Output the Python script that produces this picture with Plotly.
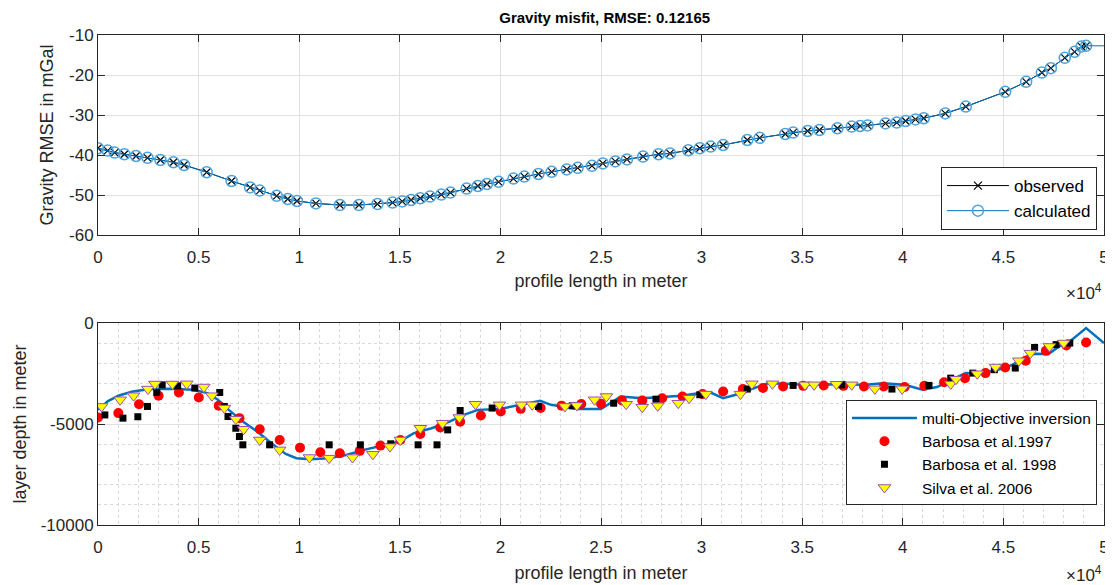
import plotly.graph_objects as go

# ---------- top panel data ----------
grav_x = [0, 480, 830, 1310, 1890, 2460, 3100, 3750, 4280, 5400, 6640, 7560, 8040, 8880, 9430, 9890,
          10830, 12020, 12970, 13890, 14640, 15120, 15560, 16020, 16500, 17060, 17520, 18320, 18880,
          19330, 19910, 20650, 21190, 21890, 22550, 23300, 23840, 24550, 25090, 25710, 26290, 27090,
          27860, 28430, 29340, 29910, 30450, 31070, 32270, 32890, 34160, 34550, 35270, 35860, 36750,
          37460, 37880, 38250, 39140, 39700, 40140, 40630, 41040, 42110, 43130, 45090, 46130, 46910,
          47360, 48050, 48540, 48880, 49110]
grav_obs = [-38.3, -38.9, -39.4, -39.8, -40.25, -40.7, -41.25, -41.8, -42.5, -44.3, -46.5, -48.1, -48.9,
            -50.2, -51.0, -51.5, -52.1, -52.5, -52.5, -52.25, -51.9, -51.6, -51.25, -50.8, -50.4, -49.9,
            -49.4, -48.4, -47.75, -47.25, -46.7, -45.9, -45.4, -44.75, -44.2, -43.6, -43.2, -42.7, -42.1,
            -41.6, -41.1, -40.4, -39.8, -39.6, -38.8, -38.3, -37.9, -37.5, -36.25, -35.7, -34.75, -34.4,
            -34.0, -33.75, -33.3, -32.9, -32.75, -32.6, -32.1, -31.9, -31.5, -31.1, -30.8, -29.6, -27.9,
            -24.2, -21.7, -19.4, -18.3, -15.7, -14.2, -12.9, -12.7]
grav_calc = list(grav_obs)
grav_tail_x = [49110, 50000]
grav_tail_y = [-12.7, -12.7]

# ---------- bottom panel data ----------
inv_x = [0, 480, 1010, 1720, 2600, 3660, 4730, 5430, 5960, 6500, 7200, 7910, 8620, 9330, 9860, 10570,
         11450, 12340, 13220, 14100, 14990, 15700, 16580, 17470, 18180, 18880, 19950, 21010, 21980,
         22510, 22950, 23840, 25000, 25980, 27050, 28130, 29020, 29910, 30450, 31070, 31700, 32410,
         33300, 34200, 35090, 35980, 37050, 38130, 39020, 40090, 40980, 41700, 42410, 43130, 43840,
         44730, 45450, 46160, 46520, 47230, 47770, 48300, 49110, 50000]
inv_y = [-4300, -3880, -3600, -3390, -3270, -3260, -3300, -3470, -3800, -4300, -4880, -5370, -5950,
         -6480, -6690, -6740, -6690, -6530, -6280, -6080, -5870, -5450, -5210, -4880, -4550, -4300,
         -4260, -4050, -3850, -4050, -4130, -4260, -4260, -3640, -3720, -3670, -3600, -3470, -3440,
         -3720, -3550, -3300, -2980, -3010, -3060, -3030, -3060, -3060, -2980, -3060, -3300, -3170,
         -2810, -2480, -2510, -2310, -2070, -1650, -1520, -1540, -1160, -910, -250, -990]

b97_x = [0, 1010, 2040, 3010, 4020, 5010, 6000, 7030, 8040, 9030, 10040, 11050, 12020, 13010, 14040,
         15030, 16020, 17010, 18000, 19030, 20020, 21010, 22000, 23040, 24020, 25000, 26040, 27050,
         28040, 29050, 30050, 31070, 32050, 33050, 34050, 35050, 36070, 37050, 38070, 39050, 40090,
         41070, 42050, 43090, 44110, 45090, 46110, 47110, 48130, 49110]
b97_y = [-4680, -4460, -4020, -3600, -3440, -3690, -4100, -4710, -5260, -5790, -6170, -6400, -6450,
         -6330, -6070, -5790, -5490, -5170, -4890, -4580, -4380, -4250, -4210, -4090, -4010, -4000,
         -3830, -3830, -3720, -3640, -3520, -3390, -3270, -3220, -3140, -3110, -3090, -3110, -3140,
         -3140, -3170, -3110, -2930, -2730, -2480, -2200, -1870, -1370, -1110, -960]

b98_x = [340, 1240, 1980, 2460, 2920, 3190, 3960, 4810, 6050, 6280, 6460, 6850, 7030, 7200, 8530,
         11490, 13040, 14550, 15910, 16850, 17380, 18000, 19590, 21890, 23570, 25630, 27730, 29910,
         32270, 34550, 36960, 39460, 41300, 42380, 43480, 44550, 45590, 46550, 47620, 48300]
b98_y = [-4550, -4710, -4640, -4130, -3440, -3060, -3110, -3220, -3440, -4130, -4630, -5210, -5620,
         -6030, -6030, -6030, -6030, -5980, -6030, -6030, -5290, -4330, -4210, -4130, -4100, -3970,
         -3770, -3550, -3270, -3090, -3060, -3270, -3090, -2730, -2480, -2310, -2230, -1210, -1070, -990]

s06_x = [180, 1100, 1770, 2480, 2830, 3700, 4410, 5260, 5660, 6280, 6850, 7240, 8040, 9030, 10510,
         11490, 12650, 13660, 14510, 15030, 16020, 17120, 17960, 18760, 19950, 21050, 21580, 23210,
         23800, 24680, 25270, 26250, 27050, 27820, 28840, 29380, 30210, 31930, 32500, 33520, 35140,
         35590, 36700, 37460, 38610, 39970, 42380, 42640, 43700, 44610, 45770, 46340, 47290, 48000]
s06_y = [-4130, -3800, -3600, -3270, -3020, -3020, -3010, -3170, -3600, -4210, -4760, -5260, -5790,
         -6280, -6660, -6690, -6660, -6500, -6120, -5790, -5210, -4960, -4680, -4020, -4050, -4050,
         -4050, -4130, -4080, -3800, -3640, -4020, -4170, -4100, -3970, -3720, -3520, -3520, -3010,
         -3010, -3060, -3060, -3030, -3060, -3260, -3260, -3020, -2780, -2510, -2180, -1870, -1490,
         -1160, -990]

x_tickvals = [0, 5000, 10000, 15000, 20000, 25000, 30000, 35000, 40000, 45000, 50000]
x_ticktext = ['0', '0.5', '1', '1.5', '2', '2.5', '3', '3.5', '4', '4.5', '5']
y1_tickvals = [-60, -50, -40, -30, -20, -10]
y1_ticktext = ['-60', '-50', '-40', '-30', '-20', '-10']
y2_tickvals = [-10000, -5000, 0]
y2_ticktext = ['-10000', '-5000', '0']

BLUE = '#0072BD'
TXT = '#262626'
FONT = 'Liberation Sans, Arial, sans-serif'

fig = go.Figure()

# top panel
fig.add_trace(go.Scatter(x=grav_x, y=grav_obs, mode='lines+markers', name='observed',
                         line=dict(color='black', width=1),
                         marker=dict(symbol='x-thin-open', size=8, color='black',
                                     line=dict(color='black', width=1.2)),
                         xaxis='x', yaxis='y', legend='legend'))
fig.add_trace(go.Scatter(x=grav_x, y=grav_calc, mode='lines+markers',
                         name='calculated',
                         line=dict(color=BLUE, width=1),
                         marker=dict(symbol='circle-open', size=11, color='#4DA3DB',
                                     line=dict(color='#4DA3DB', width=1.5)),
                         xaxis='x', yaxis='y', legend='legend'))
fig.add_trace(go.Scatter(x=grav_tail_x, y=grav_tail_y, mode='lines', showlegend=False,
                         line=dict(color=BLUE, width=1), xaxis='x', yaxis='y'))

# bottom panel
fig.add_trace(go.Scatter(x=inv_x, y=inv_y, mode='lines', name='multi-Objective inversion',
                         line=dict(color=BLUE, width=2.5),
                         xaxis='x2', yaxis='y2', legend='legend2'))
fig.add_trace(go.Scatter(x=b97_x, y=b97_y, mode='markers', name='Barbosa et al.1997',
                         marker=dict(symbol='circle', size=10, color='#FF0000'),
                         xaxis='x2', yaxis='y2', legend='legend2'))
fig.add_trace(go.Scatter(x=b98_x, y=b98_y, mode='markers', name='Barbosa et al. 1998',
                         marker=dict(symbol='square', size=7, color='black'),
                         xaxis='x2', yaxis='y2', legend='legend2'))
fig.add_trace(go.Scatter(x=s06_x, y=s06_y, mode='markers', name='Silva et al. 2006',
                         marker=dict(symbol='triangle-down', size=11, color='#FFFF00',
                                     line=dict(color='#9B4FB5', width=1)),
                         xaxis='x2', yaxis='y2', legend='legend2'))

axis_common = dict(showline=True, linecolor='#262626', linewidth=1, mirror='ticks',
                   ticks='inside', ticklen=7, tickcolor='#262626', zeroline=False,
                   automargin=False,
                   tickfont=dict(family=FONT, size=17, color=TXT),
                   gridcolor='#E0E0E0', gridwidth=1)
xaxis_extra = dict(ticklabelstandoff=7)
title_font = dict(family=FONT, size=18, color=TXT)
minor_grid = dict(dtick=1000, tick0=0, showgrid=True, gridcolor='#D9D9D9',
                  griddash='dot', gridwidth=1, ticks='')

fig.update_layout(
    width=1105, height=577,
    paper_bgcolor='white', plot_bgcolor='white',
    margin=dict(l=90, r=9, t=27, b=60),
    font=dict(family=FONT, color=TXT),
    title=dict(text='<b>Gravity misfit, RMSE: 0.12165</b>', x=0.54, xanchor='center',
               y=0.983, yanchor='middle', font=dict(family=FONT, size=15, color='black')),
    xaxis=dict(domain=[0, 1], range=[0, 50000], tickvals=x_tickvals, ticktext=x_ticktext,
               anchor='y', title=dict(text='profile length in meter', standoff=7, font=title_font),
               **xaxis_extra, **axis_common),
    yaxis=dict(domain=[0.5918, 1], range=[-60, -10], tickvals=y1_tickvals, ticktext=y1_ticktext,
               anchor='x', title=dict(text='Gravity RMSE in mGal', standoff=10, font=title_font),
               **axis_common),
    xaxis2=dict(domain=[0, 1], range=[0, 50000], tickvals=x_tickvals, ticktext=x_ticktext,
                anchor='y2', title=dict(text='profile length in meter', standoff=9, font=title_font),
                minor=minor_grid, **xaxis_extra, **axis_common),
    yaxis2=dict(domain=[0, 0.4122], range=[-10000, 0], tickvals=y2_tickvals, ticktext=y2_ticktext,
                anchor='x2', title=dict(text='layer depth in meter', standoff=9, font=title_font),
                minor=minor_grid, **axis_common),
    legend=dict(x=0.993, y=0.602, xanchor='right', yanchor='bottom',
                bgcolor='white', bordercolor='#262626', borderwidth=1,
                font=dict(family=FONT, size=17, color='black'),
                tracegroupgap=0, itemwidth=62),
    legend2=dict(x=0.993, y=0.0398, xanchor='right', yanchor='bottom',
                 bgcolor='white', bordercolor='#262626', borderwidth=1,
                 font=dict(family=FONT, size=15.5, color='black'),
                 tracegroupgap=0, itemwidth=65),
    annotations=[
        dict(text='×10<sup>4</sup>', xref='paper', yref='paper', x=1.0, y=0.5918,
             xanchor='right', yanchor='top', yshift=-44, showarrow=False,
             font=dict(family=FONT, size=17, color=TXT)),
        dict(text='×10<sup>4</sup>', xref='paper', yref='paper', x=1.0, y=0.0,
             xanchor='right', yanchor='top', yshift=-36, showarrow=False,
             font=dict(family=FONT, size=17, color=TXT)),
    ],
)

fig.write_html('out.html')
